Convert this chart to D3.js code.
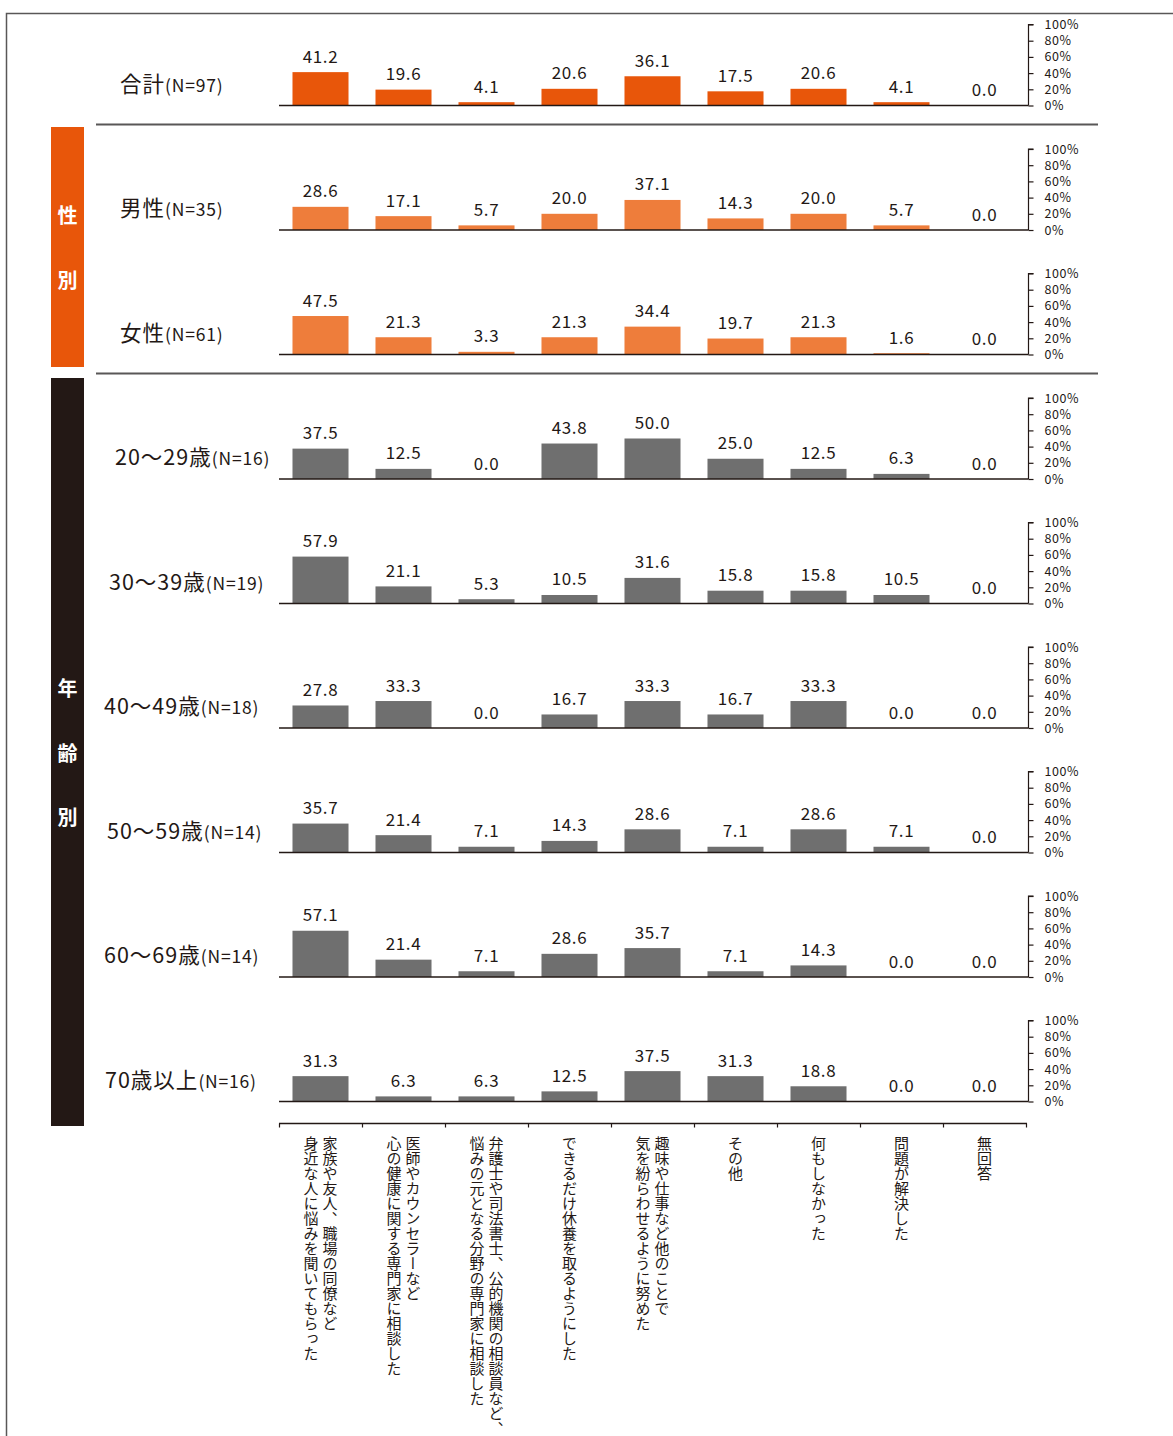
<!DOCTYPE html>
<html>
<head>
<meta charset="utf-8">
<script src="https://cdn.jsdelivr.net/npm/d3@7"></script>
<style>
  body { margin: 0; background: #fff; }
  svg text { font-family: "Noto Sans CJK JP", "Noto Sans", sans-serif; fill: #231815; }
</style>
</head>
<body>
<svg width="1173" height="1436"></svg>
<script>
// categories (each entry = lines of the vertical label, right line first)
const categories = [
  ["家族や友人、職場の同僚など", "身近な人に悩みを聞いてもらった"],
  ["医師やカウンセラーなど", "心の健康に関する専門家に相談した"],
  ["弁護士や司法書士、公的機関の相談員など、", "悩みの元となる分野の専門家に相談した"],
  ["できるだけ休養を取るようにした"],
  ["趣味や仕事など他のことで", "気を紛らわせるように努めた"],
  ["その他"],
  ["何もしなかった"],
  ["問題が解決した"],
  ["無回答"]
];

const rowNames = ["合計", "男性", "女性", "20〜29歳", "30〜39歳", "40〜49歳", "50〜59歳", "60〜69歳", "70歳以上"];
const rowN = [97, 35, 61, 16, 19, 18, 14, 14, 16];
const rowGroup = ["total", "gender", "gender", "age", "age", "age", "age", "age", "age"];

const valuesTotal = [41.2, 19.6, 4.1, 20.6, 36.1, 17.5, 20.6, 4.1, 0.0];
const valuesMale = [28.6, 17.1, 5.7, 20.0, 37.1, 14.3, 20.0, 5.7, 0.0];
const valuesFemale = [47.5, 21.3, 3.3, 21.3, 34.4, 19.7, 21.3, 1.6, 0.0];
const values20s = [37.5, 12.5, 0.0, 43.8, 50.0, 25.0, 12.5, 6.3, 0.0];
const values30s = [57.9, 21.1, 5.3, 10.5, 31.6, 15.8, 15.8, 10.5, 0.0];
const values40s = [27.8, 33.3, 0.0, 16.7, 33.3, 16.7, 33.3, 0.0, 0.0];
const values50s = [35.7, 21.4, 7.1, 14.3, 28.6, 7.1, 28.6, 7.1, 0.0];
const values60s = [57.1, 21.4, 7.1, 28.6, 35.7, 7.1, 14.3, 0.0, 0.0];
const values70s = [31.3, 6.3, 6.3, 12.5, 37.5, 31.3, 18.8, 0.0, 0.0];

const yTicks = [0, 20, 40, 60, 80, 100];

const allValues = [valuesTotal, valuesMale, valuesFemale, values20s, values30s,
  values40s, values50s, values60s, values70s];

// layout
const colors = { total: "#e8560a", gender: "#ee7d3b", age: "#6f6f6f" };
const dark = "#231815";
const firstBase = 105.5;
const rowStep = 124.5;
const panelH = 81;
const labelX = [120, 120, 120, 115, 109, 104, 107, 104, 105];

const svg = d3.select("svg");

const x = d3.scaleBand()
  .domain(d3.range(categories.length))
  .range([279, 1026])
  .paddingInner(0.325)
  .paddingOuter(0.1625);

const y = d3.scaleLinear().domain([0, 100]).range([panelH, 0]);

// outer frame
svg.append("rect")
  .attr("x", 6.5).attr("y", 13.5)
  .attr("width", 1200).attr("height", 1500)
  .attr("fill", "none").attr("stroke", "#595757").attr("stroke-width", 1.5);

// side blocks
function sideBlock(y0, y1, color, chars, charY) {
  svg.append("rect")
    .attr("x", 51).attr("y", y0).attr("width", 33).attr("height", y1 - y0)
    .attr("fill", color);
  chars.forEach((c, i) => {
    svg.append("text")
      .attr("x", 67.5).attr("y", charY[i])
      .attr("text-anchor", "middle").attr("dominant-baseline", "central")
      .style("fill", "#fff").style("font-weight", "bold").style("font-size", "20px")
      .text(c);
  });
}
sideBlock(127, 367, "#e8560a", ["性", "別"], [214, 279]);
sideBlock(378, 1126, dark, ["年", "齢", "別"], [687, 752, 816]);

// separator lines
[124.5, 373.5].forEach(yy => {
  svg.append("line")
    .attr("x1", 96).attr("x2", 1098).attr("y1", yy).attr("y2", yy)
    .attr("stroke", "#595757").attr("stroke-width", 2);
});

// panels
allValues.forEach((vals, r) => {
  const base = firstBase + r * rowStep;
  const g = svg.append("g").attr("transform", `translate(0, ${base - panelH})`);

  g.selectAll("rect.bar")
    .data(vals)
    .join("rect")
    .attr("class", "bar")
    .attr("x", (d, i) => x(i))
    .attr("width", x.bandwidth())
    .attr("y", d => y(d))
    .attr("height", d => panelH - y(d))
    .attr("fill", colors[rowGroup[r]]);

  g.selectAll("text.val")
    .data(vals)
    .join("text")
    .attr("class", "val")
    .attr("x", (d, i) => x(i) + x.bandwidth() / 2)
    .attr("y", d => y(d) - 9.5)
    .attr("text-anchor", "middle")
    .style("font-size", "17px")
    .style("letter-spacing", "0.6px")
    .text(d => d.toFixed(1));

  // baseline
  g.append("line")
    .attr("x1", 279).attr("x2", 1028.5)
    .attr("y1", panelH).attr("y2", panelH)
    .attr("stroke", dark).attr("stroke-width", 1.3);

  // right axis
  const yAxis = d3.axisRight(y)
    .tickValues(yTicks)
    .tickSize(5)
    .tickPadding(11)
    .tickFormat(d => d + "%");
  const ax = g.append("g")
    .attr("transform", "translate(1028.5, 0)")
    .call(yAxis);
  ax.select(".domain").attr("d", `M5,0H0V${panelH}`).attr("stroke", dark).attr("stroke-width", 1.2);
  ax.selectAll(".tick line").attr("stroke", dark).attr("stroke-width", 1.2);
  ax.selectAll(".tick text")
    .style("font-size", "12.5px")
    .style("letter-spacing", "0.6px")
    .style("font-family", "\"Noto Sans CJK JP\", sans-serif")
    .attr("fill", dark);

  // row label
  const t = svg.append("text")
    .attr("x", labelX[r])
    .attr("y", base - 14)
    .style("font-size", "21.5px")
    .style("letter-spacing", "1px");
  t.append("tspan").text(rowNames[r]);
  t.append("tspan").style("font-size", "17.5px").style("letter-spacing", "0.8px").text(`(N=${rowN[r]})`);
});

// bottom category axis
const xAxis = d3.axisBottom(d3.scaleLinear().domain([0, 9]).range([279, 1026]))
  .tickValues(d3.range(10))
  .tickSize(4)
  .tickFormat("");
const bx = svg.append("g").attr("transform", "translate(0, 1123.5)").call(xAxis);
bx.select(".domain").attr("d", "M279,0H1027").attr("stroke", dark).attr("stroke-width", 1.3);
bx.selectAll(".tick line").attr("stroke", dark).attr("stroke-width", 1.2);

categories.forEach((lines, i) => {
  const cx = x(i) + x.bandwidth() / 2;
  const n = lines.length;
  lines.forEach((line, j) => {
    const lx = cx + (n === 1 ? 0 : (j === 0 ? 9.5 : -9.5));
    svg.append("text")
      .attr("x", lx)
      .attr("y", 1136)
      .attr("writing-mode", "vertical-rl")
      .style("writing-mode", "vertical-rl")
      .style("font-size", "15px")
      .text(line);
  });
});
</script>
</body>
</html>
